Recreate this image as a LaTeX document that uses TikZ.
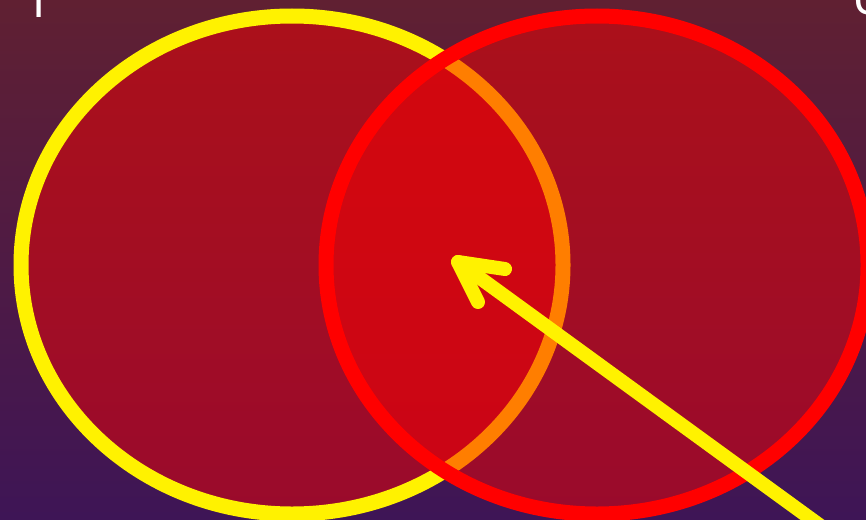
\documentclass[tikz,border=0pt]{standalone}
\usepackage{fontspec}
\setmainfont{Open Sans}
\usetikzlibrary{shadings}
\definecolor{bgtop}{RGB}{96,32,50}
\definecolor{bgbot}{RGB}{62,21,86}
\tikzset{
  circA/.style={draw=yellow, line width=15pt, fill=red, fill opacity=0.48, draw opacity=1},
  circB/.style={draw=red, line width=15pt, fill=red, fill opacity=0.48, draw opacity=1},
  arrowline/.style={draw=yellow, line width=14pt, line cap=round, line join=round},
  frag/.style={text=white, font=\fontsize{52}{52}\selectfont, inner sep=0pt, anchor=base}
}
\begin{document}
\begin{tikzpicture}[x=1pt,y=-1pt]
\useasboundingbox (0,0) rectangle (866,519);
\clip (0,0) rectangle (866,519);
\shade[top color=bgtop, bottom color=bgbot] (0,0) rectangle (866,519);
\node[frag] (t1) at (39,18) {l};
\node[frag] (t2) at (866,15) {c};
\path[circA] (292,265) ellipse [x radius=271, y radius=249];
\path[circB] (597,265) ellipse [x radius=271, y radius=249];
\coordinate (tip) at (458,262);
\coordinate (b1) at (505,269);
\coordinate (b2) at (478,302);
\coordinate (tail) at (840,540);
\draw[arrowline] (tail) -- (tip);
\draw[arrowline] (b1) -- (tip) -- (b2);
\end{tikzpicture}
\end{document}
